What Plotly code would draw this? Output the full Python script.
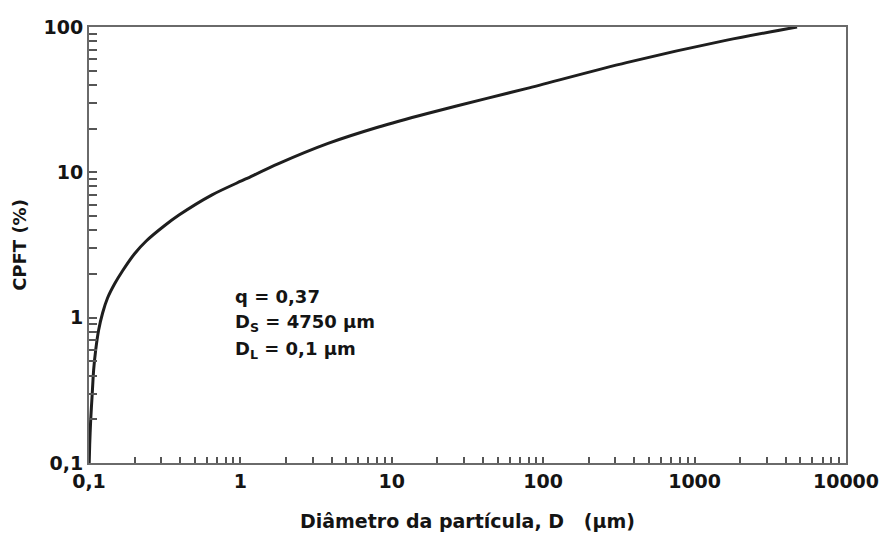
import plotly.graph_objects as go

# Particle size distribution (cumulative percent finer than)
diameter_um = [0.1003, 0.10106, 0.10259, 0.1049, 0.1073, 0.1107, 0.1158, 0.1230,
               0.1326, 0.1474, 0.1663, 0.1993, 0.2388, 0.3133, 0.3929, 0.650,
               1.084, 1.786, 3.793, 8.07, 17.18, 42.46, 78.3, 354.8, 1607, 4750]
cpft_pct = [0.1, 0.133, 0.197, 0.293, 0.436, 0.598, 0.822, 1.077,
            1.365, 1.703, 2.094, 2.742, 3.368, 4.27, 5.08, 7.0,
            9.0, 11.48, 15.81, 20.42, 25.41, 32.28, 37.84, 56.89, 80.91, 100]

# Axis ticks: decades labelled, intermediate values unlabelled
x_major = [0.1, 1, 10, 100, 1000, 10000]
x_major_text = ["0,1", "1", "10", "100", "1000", "10000"]
y_major = [0.1, 1, 10, 100]
y_major_text = ["0,1", "1", "10", "100"]

params_text = ["q = 0,37", "D<sub>S</sub> = 4750 µm", "D<sub>L</sub> = 0,1 µm"]


def with_minors(majors, labels):
    vals, texts = [], []
    for m, lab in zip(majors, labels):
        vals.append(m)
        texts.append(lab)
        if m != majors[-1]:
            for k in range(2, 10):
                vals.append(m * k)
                texts.append("")
    return vals, texts


xv, xt = with_minors(x_major, x_major_text)
yv, yt = with_minors(y_major, y_major_text)

FONT = "DejaVu Sans, Liberation Sans, Arial, sans-serif"
INK = "#141414"

fig = go.Figure()
fig.add_trace(go.Scatter(
    x=diameter_um, y=cpft_pct, mode="lines",
    line=dict(color="#1e1e1e", width=3, shape="spline", smoothing=0.8),
    showlegend=False, hoverinfo="x+y",
))

axis_common = dict(
    type="log", showgrid=False, zeroline=False,
    showline=True, linecolor="#6a6a6a", linewidth=2, mirror=True,
    ticks="inside", tickcolor="#555555", tickwidth=1.5,
    tickfont=dict(family=FONT, size=19, color=INK, weight="bold"),
)

fig.update_xaxes(
    **axis_common, range=[-1, 4], tickvals=xv, ticktext=xt, ticklen=6,
    title=dict(text="Diâmetro da partícula, D&nbsp;&nbsp;&nbsp;(µm)", standoff=24,
               font=dict(family=FONT, size=19, color=INK, weight="bold")),
)
fig.update_yaxes(
    **axis_common, range=[-1, 2], tickvals=yv, ticktext=yt, ticklen=8,
    title=dict(text="CPFT (%)", standoff=12,
               font=dict(family=FONT, size=18, color=INK, weight="bold")),
)

for i, txt in enumerate(params_text):
    fig.add_annotation(
        xref="paper", yref="paper",
        x=(234 - 89) / (852 - 89), y=1 - (296 + 27 * i - 27) / (463 - 27),
        text=txt, showarrow=False, xanchor="left", yanchor="middle",
        font=dict(family=FONT, size=18, color=INK, weight="bold"),
    )

fig.update_layout(
    width=891, height=541,
    margin=dict(l=89, r=37, t=27, b=78),
    paper_bgcolor="white", plot_bgcolor="white",
)

fig.write_html("out.html")
